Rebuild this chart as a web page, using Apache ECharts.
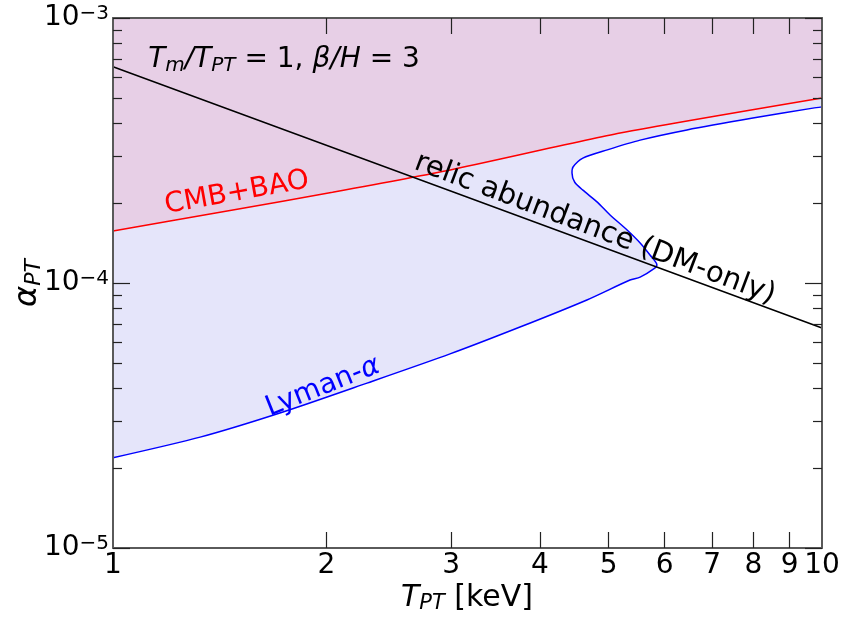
<!DOCTYPE html>
<html><head><meta charset="utf-8">
<script src="https://cdn.jsdelivr.net/npm/echarts@6/dist/echarts.min.js"></script>
<style>html,body{margin:0;padding:0;background:#fff}#c{width:843px;height:617px}</style>
</head><body><div id="c"></div>
<script>
// Relic abundance (DM-only) line: [T_PT keV, alpha_PT]
const relicT = [1, 3, 10];
const relicA = [6.55e-4, 2.22e-4, 6.76e-5];
// CMB+BAO bound
const cmbT = [1, 1.476, 2.04, 2.99, 5.19, 10];
const cmbA = [1.57e-4, 1.886e-4, 2.20e-4, 2.67e-4, 3.68e-4, 4.99e-4];
// Lyman-alpha bound (lower branch, nose, upper branch)
const lyaT = [1, 1.327, 1.737, 2.282, 2.988, 3.75, 4.66, 5.36, 5.54, 5.81, 5.85, 5.72, 5.54, 5.31, 5.02, 4.82, 4.60, 4.48, 4.44, 4.455, 4.60, 4.98, 5.54, 6.45, 7.99, 9.71, 10];
const lyaA = [2.19e-5, 2.62e-5, 3.26e-5, 4.19e-5, 5.40e-5, 6.82e-5, 8.63e-5, 1.026e-4, 1.053e-4, 1.139e-4, 1.17e-4, 1.275e-4, 1.416e-4, 1.585e-4, 1.81e-4, 2.02e-4, 2.24e-4, 2.40e-4, 2.60e-4, 2.74e-4, 2.96e-4, 3.18e-4, 3.46e-4, 3.78e-4, 4.19e-4, 4.57e-4, 4.62e-4];
// Axis ticks
const xLabels = [1, 2, 3, 4, 5, 6, 7, 8, 9, 10];
const xMinor = [2, 3, 4, 5, 6, 7, 8, 9];
const yMajor = [1e-5, 1e-4, 1e-3];
const yMinor = [2e-5, 3e-5, 4e-5, 5e-5, 6e-5, 7e-5, 8e-5, 9e-5, 2e-4, 3e-4, 4e-4, 5e-4, 6e-4, 7e-4, 8e-4, 9e-4];
const X_MIN = 1, X_MAX = 10, Y_MIN = 1e-5, Y_MAX = 1e-3;

const FONT = 'DejaVu Sans';
const zip = (a, b) => a.map((v, i) => [v, b[i]]);
const relic = zip(relicT, relicA);
const cmb = zip(cmbT, cmbA);
const lya = zip(lyaT, lyaA);
const lyaPoly = lya.concat([[X_MAX, Y_MAX], [X_MIN, Y_MAX]]);
const cmbPoly = cmb.concat([[X_MAX, Y_MAX], [X_MIN, Y_MAX]]);

const spine = {show: true, lineStyle: {color: '#5a5a5a', width: 2}};
const noLine = {show: false};
function xAx(pos, showLabel) {
  return {type: 'log', logBase: 10, min: X_MIN, max: X_MAX, position: pos, z: 5,
    axisLine: Object.assign({onZero: false}, spine),
    splitLine: {show: false},
    axisTick: {show: true, inside: true, length: 16, customValues: xMinor, lineStyle: {color: '#222', width: 1.2}},
    axisLabel: {show: showLabel, customValues: xLabels, margin: 4, color: '#000', fontFamily: FONT, fontSize: 28,
      formatter: v => String(Math.round(v))}};
}
function yAx(pos, ticks, len, showLabel, line) {
  return {type: 'log', logBase: 10, min: Y_MIN, max: Y_MAX, position: pos, z: 5,
    axisLine: line ? Object.assign({onZero: false}, spine) : noLine,
    splitLine: {show: false},
    axisTick: {show: true, inside: true, length: len, customValues: ticks, lineStyle: {color: '#222', width: 1.2}},
    axisLabel: {show: showLabel, customValues: yMajor, margin: 4, color: '#000', fontFamily: FONT,
      formatter: v => '{b|10}{s|\u2212' + Math.round(-Math.log10(v)) + '}',
      rich: {b: {fontSize: 28, fontFamily: FONT, color: '#000'}, s: {fontSize: 20, fontFamily: FONT, color: '#000', verticalAlign: 'top', lineHeight: 20, padding: [0, 0, 14, 0]}}}};
}

function polySeries(pts, fill) {
  return {type: 'custom', coordinateSystem: 'cartesian2d', xAxisIndex: 0, yAxisIndex: 0, silent: true, z: 1,
    data: [[X_MIN, Y_MIN]],
    renderItem: (params, api) => ({type: 'polygon', shape: {points: pts.map(p => api.coord(p))}, style: {fill: fill}})};
}

const chart = echarts.init(document.getElementById('c'), null, {renderer: 'canvas'});
chart.setOption({
  animation: false,
  grid: {left: 113, right: 21, top: 18, bottom: 69, containLabel: false},
  xAxis: [xAx('bottom', true), xAx('top', false)],
  yAxis: [yAx('left', yMajor, 17, true, true), yAx('right', yMajor, 17, false, true),
          yAx('left', yMinor, 9, false, false), yAx('right', yMinor, 9, false, false)],
  series: [
    polySeries(lyaPoly, '#e5e5fa'),
    polySeries(cmbPoly, '#e7cfe6'),
    {type: 'line', data: cmb, showSymbol: false, smooth: 0.2, z: 3, lineStyle: {color: '#ff0000', width: 1.5}},
    {type: 'line', data: lya, showSymbol: false, smooth: 0.25, z: 3, lineStyle: {color: '#0000ff', width: 1.5}},
    {type: 'line', data: relic, showSymbol: false, z: 4, lineStyle: {color: '#000', width: 1.5}}
  ],
  graphic: [
    {type: 'text', x: 284, y: 60, z: 10, style: {text: '{i|T}{s|m}{i|/T}{s|PT}{n| = 1, }{i|\u03b2/H}{n| = 3}', align: 'center', verticalAlign: 'middle',
      rich: {i: {fontFamily: FONT, fontStyle: 'italic', fontSize: 28, fill: '#000'}, n: {fontFamily: FONT, fontSize: 28, fill: '#000'},
             s: {fontFamily: FONT, fontStyle: 'italic', fontSize: 20, fill: '#000', verticalAlign: 'bottom', padding: [12, 0, 0, 0]}}}},
    {type: 'text', x: 595, y: 229, rotation: -0.36, z: 10, style: {text: 'relic abundance (DM-only)', fill: '#000', fontFamily: FONT, fontSize: 29, align: 'center', verticalAlign: 'middle'}},
    {type: 'text', x: 237, y: 193, rotation: 0.178, z: 10, style: {text: 'CMB+BAO', fill: '#ff0000', fontFamily: FONT, fontSize: 28, align: 'center', verticalAlign: 'middle'}},
    {type: 'text', x: 323, y: 387, rotation: 0.38, z: 10, style: {text: '{n|Lyman-}{i|\u03b1}', align: 'center', verticalAlign: 'middle',
      rich: {n: {fontFamily: FONT, fontSize: 28, fill: '#0000ff'}, i: {fontFamily: FONT, fontStyle: 'italic', fontSize: 28, fill: '#0000ff'}}}},
    {type: 'text', x: 467, y: 598, z: 10, style: {text: '{i|T}{s|PT}{n| [keV]}', align: 'center', verticalAlign: 'middle',
      rich: {i: {fontFamily: FONT, fontStyle: 'italic', fontSize: 30, fill: '#000'}, n: {fontFamily: FONT, fontSize: 30, fill: '#000'},
             s: {fontFamily: FONT, fontStyle: 'italic', fontSize: 21, fill: '#000', verticalAlign: 'bottom', padding: [12, 0, 0, 0]}}}},
    {type: 'text', x: 28, y: 283, rotation: Math.PI / 2, z: 10, style: {text: '{i|\u03b1}{s|PT}', align: 'center', verticalAlign: 'middle',
      rich: {i: {fontFamily: FONT, fontStyle: 'italic', fontSize: 32, fill: '#000'},
             s: {fontFamily: FONT, fontStyle: 'italic', fontSize: 22, fill: '#000', verticalAlign: 'bottom', padding: [12, 0, 0, 0]}}}}
  ]
});
</script></body></html>
